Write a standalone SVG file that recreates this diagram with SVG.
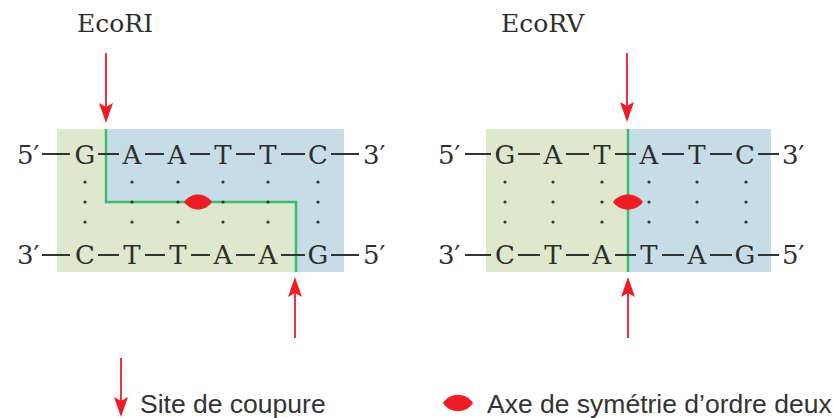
<svg xmlns="http://www.w3.org/2000/svg" width="833" height="418" viewBox="0 0 833 418">
<style>
.ser{font-family:"DejaVu Serif","Liberation Serif",serif;font-size:26px;fill:#2e2e2e}
.ttl{font-size:25px}
.base{text-anchor:middle}
.sans{font-family:"Liberation Sans",Arial,sans-serif;font-size:26.5px;fill:#333}
.dash{stroke:#333;stroke-width:2}
.green{fill:#dde8cc}
.blue{fill:#c6dce7}
.cut{fill:none;stroke:#3dbb6e;stroke-width:2.5}
.arr{stroke:#ee1c25;stroke-width:1.8;fill:none;marker-end:url(#ah)}
.sym{fill:#ee1c25}
.dot{fill:#333}
</style>
<defs>
<marker id="ah" viewBox="-16 -8 22 16" refX="0" refY="0" markerWidth="22" markerHeight="16" markerUnits="userSpaceOnUse" orient="auto">
<path d="M5,0 L-15,-7 L-11,0 L-15,7 z" fill="#ee1c25"/>
</marker>
<circle id="d" r="1.6" class="dot"/>
</defs>

<g id="ecori">
<text class="ser ttl" x="77" y="32">EcoRI</text>
<rect class="green" x="57" y="129" width="287" height="143"/>
<polygon class="blue" points="106,129 344,129 344,272 296,272 296,202 106,202"/>
<polyline class="cut" points="106,129 106,202 296,202 296,272"/>
<g>
<text class="ser" x="17" y="164">5′</text>
<text class="ser base" x="85" y="164">G</text>
<text class="ser base" x="132" y="164">A</text>
<text class="ser base" x="177" y="164">A</text>
<text class="ser base" x="223" y="164">T</text>
<text class="ser base" x="268" y="164">T</text>
<text class="ser base" x="318" y="164">C</text>
<text class="ser" x="363" y="164">3′</text>
<path class="dash" d="M42,154H70M98,154H119M145,154H164M190,154H210M236,154H255M281,154H305M331,154H359"/>
</g>
<g>
<text class="ser" x="17" y="264">3′</text>
<text class="ser base" x="85" y="264">C</text>
<text class="ser base" x="132" y="264">T</text>
<text class="ser base" x="178" y="264">T</text>
<text class="ser base" x="223" y="264">A</text>
<text class="ser base" x="268" y="264">A</text>
<text class="ser base" x="318" y="264">G</text>
<text class="ser" x="363" y="264">5′</text>
<path class="dash" d="M42,255H70M98,255H119M145,255H165M191,255H210M236,255H255M281,255H305M331,255H359"/>
</g>
<g>
<use href="#d" x="85" y="182"/><use href="#d" x="85" y="202"/><use href="#d" x="85" y="222"/>
<use href="#d" x="132" y="182"/><use href="#d" x="132" y="202"/><use href="#d" x="132" y="222"/>
<use href="#d" x="178" y="182"/><use href="#d" x="178" y="202"/><use href="#d" x="178" y="222"/>
<use href="#d" x="223" y="182"/><use href="#d" x="223" y="202"/><use href="#d" x="223" y="222"/>
<use href="#d" x="268" y="182"/><use href="#d" x="268" y="202"/><use href="#d" x="268" y="222"/>
<use href="#d" x="318" y="182"/><use href="#d" x="318" y="202"/><use href="#d" x="318" y="222"/>
</g>
<path class="sym" d="M184,202 C191,192 205,192 212,202 C205,212 191,212 184,202 z"/>
</g>

<g id="ecorv">
<text class="ser ttl" x="501" y="32">EcoRV</text>
<rect class="green" x="486" y="129" width="142" height="143"/>
<rect class="blue" x="628" y="129" width="143" height="143"/>
<line class="cut" x1="628" y1="129" x2="628" y2="272"/>
<g>
<text class="ser" x="438" y="164">5′</text>
<text class="ser base" x="505" y="164">G</text>
<text class="ser base" x="553" y="164">A</text>
<text class="ser base" x="602" y="164">T</text>
<text class="ser base" x="649" y="164">A</text>
<text class="ser base" x="697" y="164">T</text>
<text class="ser base" x="745" y="164">C</text>
<text class="ser" x="782" y="164">3′</text>
<path class="dash" d="M465,154H491M518,154H540M566,154H589M615,154H636M662,154H684M710,154H732M758,154H779"/>
</g>
<g>
<text class="ser" x="438" y="264">3′</text>
<text class="ser base" x="505" y="264">C</text>
<text class="ser base" x="553" y="264">T</text>
<text class="ser base" x="602" y="264">A</text>
<text class="ser base" x="649" y="264">T</text>
<text class="ser base" x="697" y="264">A</text>
<text class="ser base" x="745" y="264">G</text>
<text class="ser" x="782" y="264">5′</text>
<path class="dash" d="M465,255H491M518,255H540M566,255H589M615,255H636M662,255H684M710,255H732M758,255H779"/>
</g>
<g>
<use href="#d" x="505" y="182"/><use href="#d" x="505" y="202"/><use href="#d" x="505" y="222"/>
<use href="#d" x="553" y="182"/><use href="#d" x="553" y="202"/><use href="#d" x="553" y="222"/>
<use href="#d" x="602" y="182"/><use href="#d" x="602" y="202"/><use href="#d" x="602" y="222"/>
<use href="#d" x="649" y="182"/><use href="#d" x="649" y="202"/><use href="#d" x="649" y="222"/>
<use href="#d" x="697" y="182"/><use href="#d" x="697" y="202"/><use href="#d" x="697" y="222"/>
<use href="#d" x="746" y="182"/><use href="#d" x="746" y="202"/><use href="#d" x="746" y="222"/>
</g>
<path class="sym" d="M613,202 C620,192 636,192 643,202 C636,212 620,212 613,202 z"/>
</g>

<g id="connectors">
<line class="arr" x1="106" y1="53" x2="106" y2="118"/>
<line class="arr" x1="295" y1="338" x2="295" y2="282"/>
<line class="arr" x1="627" y1="53" x2="627" y2="117"/>
<line class="arr" x1="628" y1="338" x2="628" y2="282"/>
</g>

<g id="legend">
<line class="arr" x1="121" y1="358" x2="121" y2="412"/>
<text class="sans" x="140" y="413">Site de coupure</text>
<path class="sym" d="M443,403 C450,392 466,392 473,403 C466,414 450,414 443,403 z"/>
<text class="sans" x="487" y="413">Axe de symétrie d’ordre deux</text>
</g>
</svg>
